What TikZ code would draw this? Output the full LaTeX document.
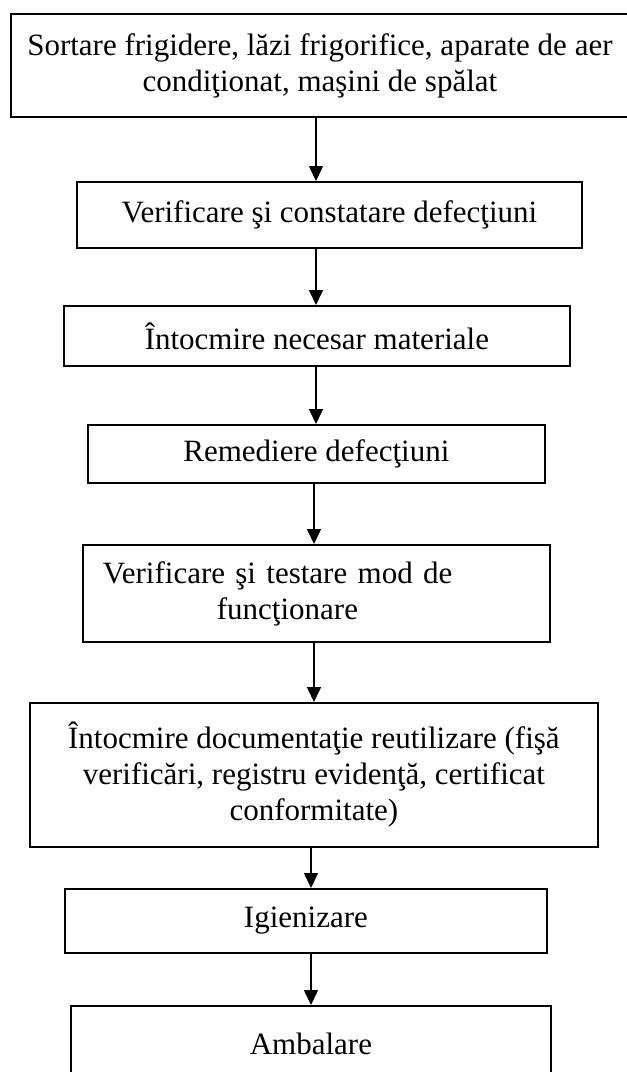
\documentclass[tikz,border=0pt]{standalone}
\usepackage{fontspec}
\setmainfont{Liberation Serif}
\usetikzlibrary{arrows.meta}
\begin{document}
\begin{tikzpicture}[x=1pt,y=-1pt,
  stepbox/.style={draw=black, line width=1.8pt, inner sep=0pt, anchor=north west,
    align=center, font=\fontsize{31}{36}\selectfont},
  flow/.style={line width=1.6pt, -{Triangle[length=15pt,width=14pt]}}]
\useasboundingbox (0,0) rectangle (627,1072);
\fill[white] (0,0) rectangle (627,1072);

% vertical guides for the connectors
\coordinate (ca) at (316,0);
\coordinate (cb) at (314,0);
\coordinate (cc) at (311,0);

\node[stepbox, minimum width=618pt, minimum height=103pt] (b1) at (10,13)
  {Sortare frigidere, lăzi frigorifice, aparate de aer\\condiţionat, maşini de spălat};
\node[stepbox, minimum width=505pt, minimum height=66pt] (b2) at (76,181)
  {Verificare şi constatare defecţiuni};
\node[stepbox, minimum width=506pt, minimum height=60pt] (b3) at (63,305)
  {Întocmire necesar materiale};
\node[stepbox, minimum width=457pt, minimum height=58pt] (b4) at (87,424)
  {Remediere defecţiuni};
\node[stepbox, minimum width=467pt, minimum height=97pt, align=left,
  text width=427pt, inner xsep=20pt] (b5) at (82,544)
  {Verificare şi testare mod de\\\hspace*{114pt}funcţionare};
\node[stepbox, minimum width=568pt, minimum height=144pt] (b6) at (29,702)
  {Întocmire documentaţie reutilizare (fişă\\verificări, registru evidenţă, certificat\\conformitate)};
\node[stepbox, minimum width=482pt, minimum height=64pt] (b7) at (64,888)
  {Igienizare};
\node[stepbox, minimum width=480pt, minimum height=76pt] (b8) at (70,1005)
  {Ambalare};

\draw[flow] (b1.south -| ca) -- (b2.north -| ca);
\draw[flow] (b2.south -| ca) -- (b3.north -| ca);
\draw[flow] (b3.south -| ca) -- (b4.north -| ca);
\draw[flow] (b4.south -| cb) -- (b5.north -| cb);
\draw[flow] (b5.south -| cb) -- (b6.north -| cb);
\draw[flow] (b6.south -| cc) -- (b7.north -| cc);
\draw[flow] (b7.south -| cc) -- (b8.north -| cc);
\end{tikzpicture}
\end{document}
